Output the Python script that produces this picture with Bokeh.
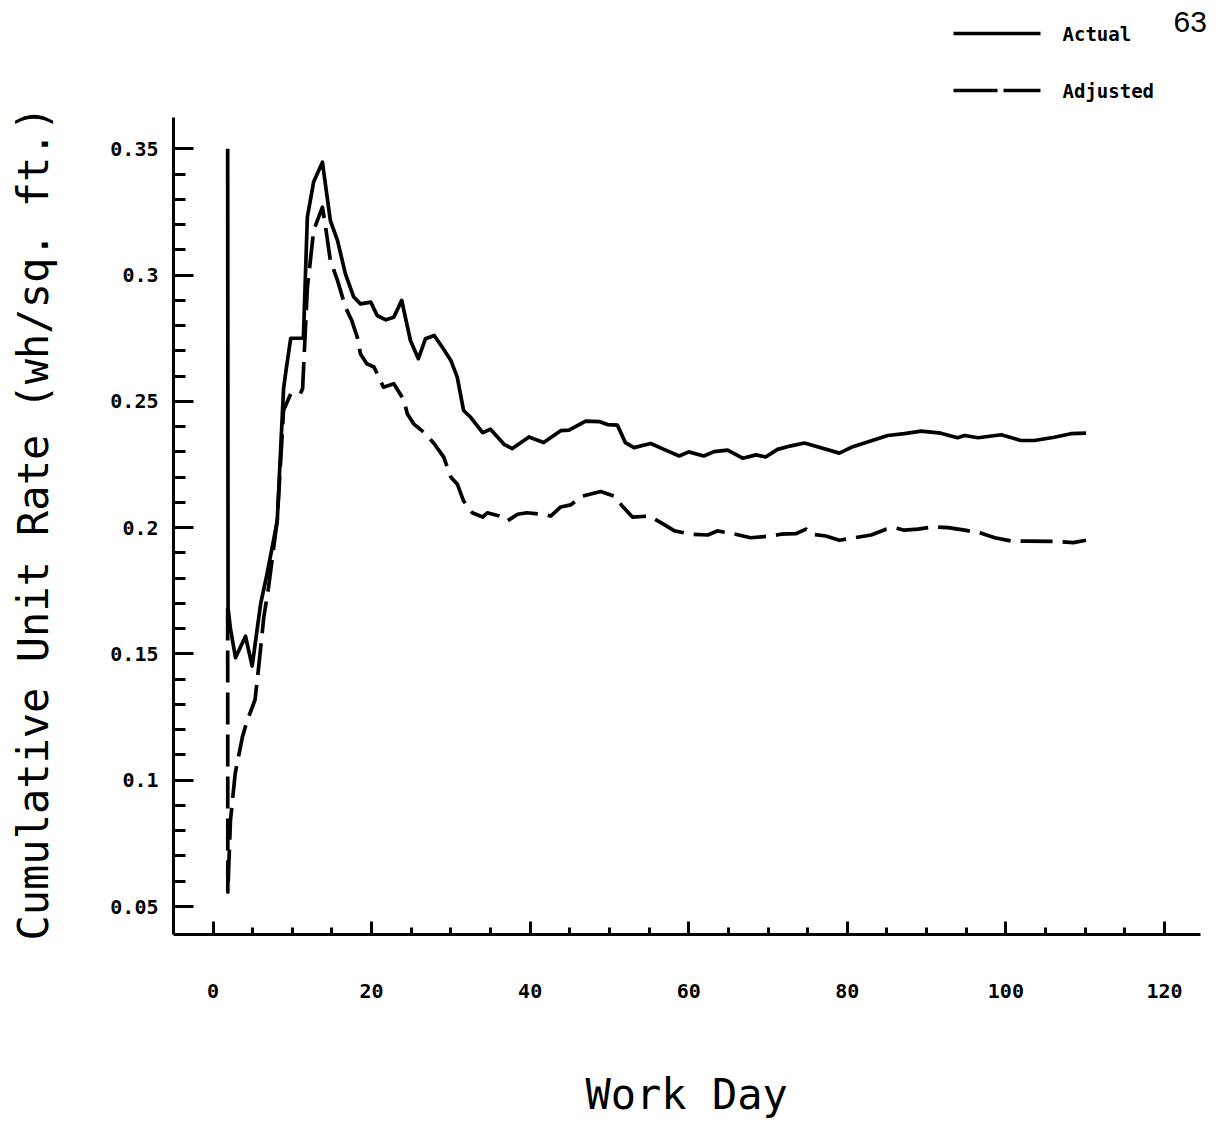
from bokeh.plotting import figure
from bokeh.models import Range1d, FixedTicker, CustomJSTickFormatter, Label, Title
from bokeh.embed import file_html
from bokeh.resources import INLINE

# ---- data ----
actual_day = [1.85, 1.9, 2.2, 2.84, 4.1, 4.94, 6.0, 6.8, 7.45, 8.1, 8.5, 8.9, 9.2, 9.8, 11.4,
              11.9, 12.7, 13.8, 14.8, 15.7, 16.7, 17.75, 18.6, 19.9, 20.7, 21.8, 22.8, 23.8,
              24.9, 25.9, 26.8, 27.9, 28.9, 30.0, 30.8, 31.6, 32.5, 34.0, 35.0, 36.7, 37.75,
              39.85, 41.7, 43.85, 44.9, 47.0, 48.7, 49.75, 51.0, 52.0, 53.1, 55.2, 57.3, 58.8,
              60.0, 61.9, 63.2, 64.9, 66.8, 68.5, 69.7, 71.2, 72.9, 74.6, 79.0, 80.5, 85.1,
              87.2, 89.3, 91.8, 93.9, 94.8, 96.5, 99.4, 101.9, 103.6, 106.1, 108.2, 110.1]
actual_rate = [0.350, 0.168, 0.160, 0.1485, 0.157, 0.1452, 0.1697, 0.1815, 0.192, 0.2026, 0.229,
               0.255, 0.262, 0.275, 0.275, 0.323, 0.337, 0.3447, 0.3216, 0.3137, 0.3005, 0.2913,
               0.2886, 0.2893, 0.284, 0.2823, 0.2833, 0.290, 0.2741, 0.2669, 0.2748, 0.2761,
               0.2715, 0.2662, 0.2596, 0.2464, 0.2437, 0.2376, 0.239, 0.233, 0.2313, 0.2359,
               0.2337, 0.2384, 0.2386, 0.2422, 0.242, 0.2408, 0.2406, 0.2337, 0.2317, 0.2333,
               0.2304, 0.2284, 0.230, 0.2284, 0.2301, 0.2307, 0.2275, 0.2288, 0.228, 0.231,
               0.2324, 0.2335, 0.2295, 0.2318, 0.2365, 0.2372, 0.2382, 0.2374, 0.2356, 0.2365,
               0.2356, 0.2368, 0.2345, 0.2345, 0.2358, 0.2372, 0.2374]

adjusted_day = [1.85, 1.87, 2.2, 2.8, 3.7, 4.3, 5.3, 5.8, 6.4, 7.0, 7.65, 8.1, 8.9, 9.8, 11.0,
                11.3, 11.9, 12.7, 13.8, 14.2, 14.8, 15.7, 16.7, 17.5, 18.2, 18.6, 19.4, 20.3,
                21.5, 22.8, 24.1, 24.5, 25.3, 26.8, 27.9, 29.1, 30.0, 30.8, 31.6, 32.7, 34.0,
                34.6, 36.1, 37.1, 38.4, 39.6, 41.5, 42.6, 43.85, 45.1, 46.6, 48.9, 50.6, 51.6,
                52.9, 55.0, 56.7, 58.2, 60.3, 62.4, 63.6, 65.9, 67.8, 70.4, 71.6, 73.5, 74.8,
                75.5, 77.3, 79.0, 80.9, 83.0, 84.9, 86.2, 87.2, 88.9, 90.8, 92.7, 94.8, 96.7,
                98.6, 100.7, 102.6, 106.6, 108.5, 110.1]
adjusted_rate = [0.168, 0.0557, 0.084, 0.1027, 0.117, 0.1235, 0.1318, 0.146, 0.1644, 0.1763,
                 0.192, 0.203, 0.2465, 0.253, 0.253, 0.255, 0.295, 0.3177, 0.3269, 0.319,
                 0.3058, 0.2979, 0.2873, 0.282, 0.2754, 0.2688, 0.2649, 0.2636, 0.2556, 0.257,
                 0.2504, 0.2451, 0.2411, 0.2372, 0.2332, 0.2279, 0.220, 0.2173, 0.2106, 0.2059,
                 0.2042, 0.2059, 0.2046, 0.2026, 0.2053, 0.2059, 0.2053, 0.2046, 0.2082, 0.209,
                 0.2125, 0.2143, 0.2125, 0.2086, 0.2042, 0.2046, 0.2016, 0.1987, 0.1974, 0.1971,
                 0.1987, 0.1974, 0.196, 0.1967, 0.1974, 0.1976, 0.1994, 0.1974, 0.1967, 0.195,
                 0.196, 0.1971, 0.1994, 0.1998, 0.199, 0.1994, 0.2003, 0.200, 0.199, 0.198,
                 0.196, 0.1947, 0.1947, 0.1945, 0.1941, 0.195]

x_ticks = [0, 20, 40, 60, 80, 100, 120]
x_minor = [5, 10, 15, 25, 30, 35, 45, 50, 55, 65, 70, 75, 85, 90, 95, 105, 110, 115]
y_ticks = [0.05, 0.1, 0.15, 0.2, 0.25, 0.3, 0.35]
y_minor = [0.06, 0.07, 0.08, 0.09, 0.11, 0.12, 0.13, 0.14, 0.16, 0.17, 0.18, 0.19,
           0.21, 0.22, 0.23, 0.24, 0.26, 0.27, 0.28, 0.29, 0.31, 0.32, 0.33, 0.34]

series_labels = ["Actual", "Adjusted"]
x_title = "Work Day"
y_title = "Cumulative Unit Rate (wh/sq. ft.)"
page_number = "63"

# ---- layout (canvas px == window px) ----
W, H = 1228, 1124
FL, FB = 173, 934                 # frame left / bottom edges; frame reaches top and right edges
X_PER_PX = 1 / 7.929              # days per pixel
Y_PER_PX = 1 / 2525.7             # rate per pixel
X_AT_0 = 212.5                    # pixel of day 0
Y_AT_035 = 148.3                  # pixel of 0.35

def px2x(px):
    return (px - X_AT_0) * X_PER_PX

def py2y(py):
    return 0.35 - (py - Y_AT_035) * Y_PER_PX

X0, X1 = px2x(FL), px2x(W)
Y0, Y1 = py2y(FB), py2y(0)
axis_x_end = px2x(1200)
axis_y_end = py2y(117)

p = figure(width=W, height=H, output_backend="svg", toolbar_location=None,
           x_range=Range1d(X0, X1), y_range=Range1d(Y0, Y1),
           min_border_left=FL, min_border_right=0,
           min_border_top=0, min_border_bottom=H - FB)
p.outline_line_color = None
p.xgrid.visible = False
p.ygrid.visible = False
p.background_fill_color = "white"
p.border_fill_color = "white"

p.line(actual_day, actual_rate, line_color="black", line_width=3.7, line_join="round")
p.line(adjusted_day, adjusted_rate, line_color="black", line_width=3.7,
       line_dash="32 10", line_join="round")

mono = "DejaVu Sans Mono"
for ax in (p.xaxis[0], p.yaxis[0]):
    ax.axis_line_width = 3
    ax.axis_line_color = "black"
    ax.major_tick_line_width = 3
    ax.minor_tick_line_width = 3
    ax.major_tick_line_color = "black"
    ax.minor_tick_line_color = "black"
    ax.major_tick_out = 0
    ax.minor_tick_out = 0
    ax.major_label_text_font = mono
    ax.major_label_text_font_style = "bold"
    ax.major_label_text_font_size = "20px"
    ax.major_label_text_color = "black"

p.xaxis.ticker = FixedTicker(ticks=x_ticks, minor_ticks=x_minor)
p.xaxis.bounds = (X0, axis_x_end)
p.xaxis.major_tick_in = 13
p.xaxis.minor_tick_in = 7
p.xaxis.major_label_standoff = 49

p.yaxis.ticker = FixedTicker(ticks=y_ticks, minor_ticks=y_minor)
p.yaxis.bounds = (Y0, axis_y_end)
p.yaxis.formatter = CustomJSTickFormatter(code="return String(Math.round(tick*100)/100);")
p.yaxis.major_tick_in = 20
p.yaxis.minor_tick_in = 12
p.yaxis.major_label_standoff = 15

# axis titles as side-panel titles (with spacer panels) so they can be placed freely
def spacer(size):
    return Title(text=" ", text_font_size="1px", standoff=size, text_color="white")

p.add_layout(spacer(65), "below")
p.add_layout(Title(text=x_title, align="left", offset=585 - FL, vertical_align="middle",
                   standoff=0, text_font=mono, text_font_size="42px",
                   text_font_style="normal", text_color="black"), "below")
p.add_layout(spacer(46), "left")
p.add_layout(Title(text=y_title, align="left", offset=-6, vertical_align="middle",
                   standoff=0, text_font=mono, text_font_size="42px",
                   text_font_style="normal", text_color="black"), "left")

# ---- legend (top right) ----
p.line([px2x(953), px2x(1040)], [py2y(33), py2y(33)], line_color="black", line_width=3.7)
p.line([px2x(953), px2x(1040)], [py2y(90), py2y(90)], line_color="black", line_width=3.7,
       line_dash="44 6")
for lbl, py in zip(series_labels, (33, 90)):
    p.add_layout(Label(x=px2x(1062), y=py2y(py), text=lbl, text_font=mono, text_font_style="bold",
                       text_font_size="19px", text_baseline="middle", text_align="left",
                       text_color="black"))
p.add_layout(Label(x=px2x(1173), y=py2y(21), text=page_number, text_font="Liberation Sans",
                   text_font_size="30px", text_baseline="middle", text_align="left",
                   text_color="black"))

open("out.html", "w").write(file_html(p, INLINE))
